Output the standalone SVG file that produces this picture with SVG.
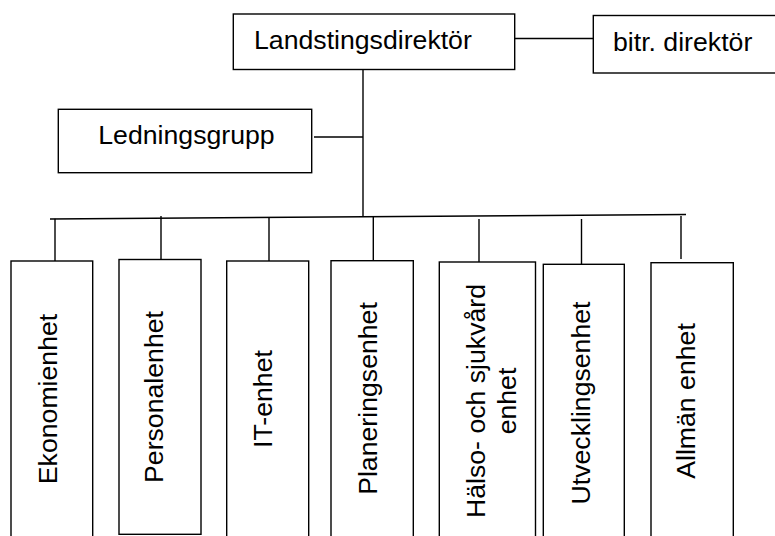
<svg xmlns="http://www.w3.org/2000/svg" width="775" height="536" viewBox="0 0 775 536">
<style>
.box{fill:#fff;stroke:#000;stroke-width:1.4}
.ln{stroke:#000;stroke-width:1.4;fill:none}
.t{font-family:"Liberation Sans",Arial,sans-serif;font-size:26.67px;fill:#000}
.v{text-anchor:middle}
</style>
<rect width="775" height="536" fill="#fff"/>
<g id="connectors">
<line class="ln" x1="514.7" y1="38.5" x2="593.3" y2="38.5"/>
<line class="ln" x1="363" y1="69.5" x2="363" y2="217"/>
<line class="ln" x1="314" y1="137" x2="363" y2="137"/>
<line class="ln" x1="50" y1="219" x2="686" y2="214.5"/>
<line class="ln" x1="55" y1="218.8" x2="55" y2="261"/>
<line class="ln" x1="161" y1="216" x2="161" y2="259.5"/>
<line class="ln" x1="269" y1="217.5" x2="269" y2="261"/>
<line class="ln" x1="373.3" y1="216.7" x2="373.3" y2="260.7"/>
<line class="ln" x1="479" y1="219" x2="479" y2="262"/>
<line class="ln" x1="581.5" y1="219" x2="581.5" y2="264"/>
<line class="ln" x1="681" y1="216" x2="681" y2="259"/>
</g>
<g id="landstingsdirektor">
<rect class="box" x="233.3" y="14" width="281.4" height="55.5"/>
<text class="t" x="254" y="49">Landstingsdirektör</text>
</g>
<g id="bitr-direktor">
<rect class="box" x="593.3" y="15.5" width="220" height="57.5"/>
<text class="t" x="613" y="51">bitr. direktör</text>
</g>
<g id="ledningsgrupp">
<rect class="box" x="58.3" y="109.3" width="253.4" height="63.4"/>
<text class="t" x="98.3" y="144">Ledningsgrupp</text>
</g>
<g id="ekonomienhet">
<rect class="box" x="11" y="261" width="81.7" height="290"/>
<text class="t v" transform="translate(56.7,399) rotate(-90)">Ekonomienhet</text>
</g>
<g id="personalenhet">
<rect class="box" x="119" y="259.5" width="82" height="274.8"/>
<text class="t v" transform="translate(163.3,397) rotate(-90)">Personalenhet</text>
</g>
<g id="it-enhet">
<rect class="box" x="226.7" y="261" width="82" height="290"/>
<text class="t v" transform="translate(271.7,399) rotate(-90)">IT-enhet</text>
</g>
<g id="planeringsenhet">
<rect class="box" x="331" y="260.7" width="82.3" height="290"/>
<text class="t v" transform="translate(376.7,398.5) rotate(-90)">Planeringsenhet</text>
</g>
<g id="halso-och-sjukvard">
<rect class="box" x="439.3" y="262" width="96.2" height="290"/>
<text class="t v" transform="translate(485,401) rotate(-90)">Hälso- och sjukvård</text>
<text class="t v" transform="translate(516,401) rotate(-90)">enhet</text>
</g>
<g id="utvecklingsenhet">
<rect class="box" x="543.3" y="264.3" width="81" height="290"/>
<text class="t v" transform="translate(590,403) rotate(-90)">Utvecklingsenhet</text>
</g>
<g id="allman-enhet">
<rect class="box" x="651" y="262.7" width="82.3" height="290"/>
<text class="t v" transform="translate(695,401) rotate(-90)">Allmän enhet</text>
</g>
</svg>
